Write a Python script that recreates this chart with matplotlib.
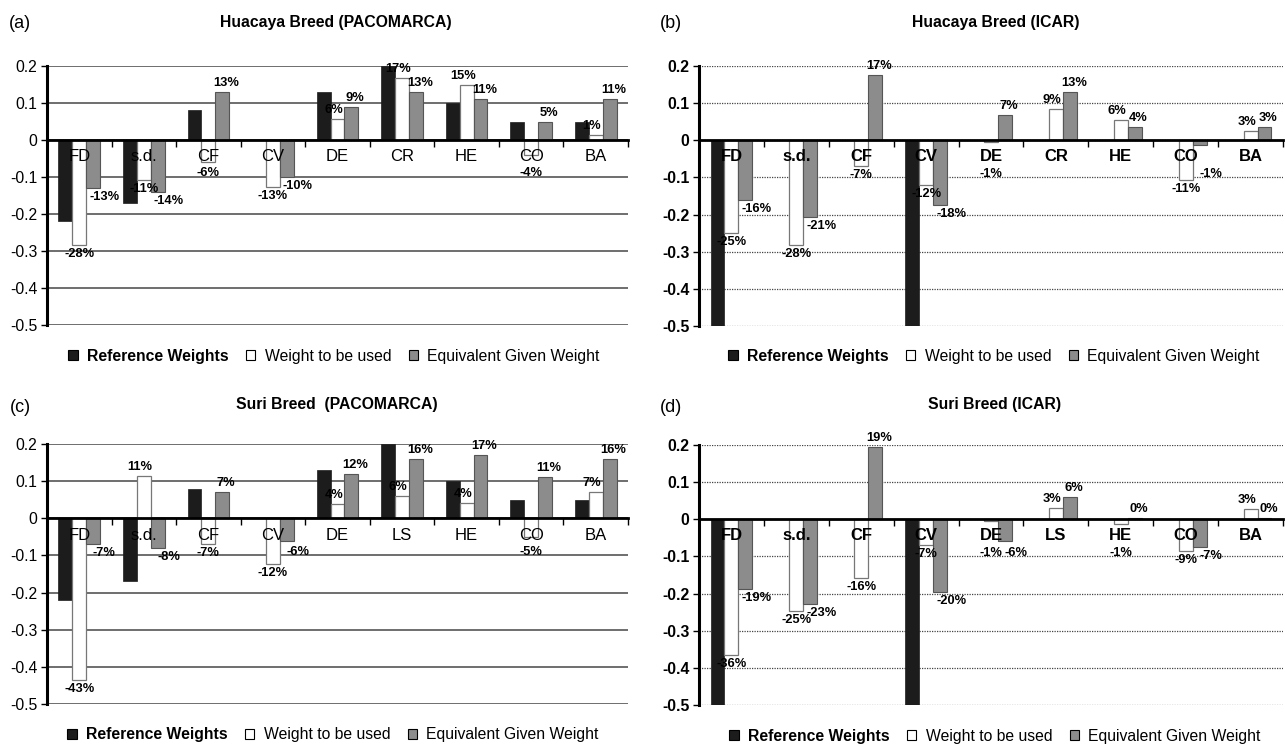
import matplotlib
matplotlib.use("Agg")
import matplotlib.pyplot as plt
from matplotlib.patches import Patch
import numpy as np

plt.rcParams["font.family"] = ["Liberation Sans", "DejaVu Sans"]

# categories
cats_huacaya = ["FD", "s.d.", "CF", "CV", "DE", "CR", "HE", "CO", "BA"]
cats_suri = ["FD", "s.d.", "CF", "CV", "DE", "LS", "HE", "CO", "BA"]

# (a) Huacaya Breed (PACOMARCA)
ref_a = [-0.22, -0.17, 0.08, 0.0, 0.13, 0.20, 0.10, 0.05, 0.05]
use_a = [-0.283, -0.107, -0.06, -0.127, 0.056, 0.167, 0.15, -0.04, 0.013]
eq_a = [-0.13, -0.14, 0.13, -0.10, 0.09, 0.13, 0.11, 0.05, 0.11]
use_lab_a = ["-28%", "-11%", "-6%", "-13%", "6%", "17%", "15%", "-4%", "1%"]
eq_lab_a = ["-13%", "-14%", "13%", "-10%", "9%", "13%", "11%", "5%", "11%"]

# (b) Huacaya Breed (ICAR)
ref_b = [-0.5, 0.0, 0.0, -0.5, 0.0, 0.0, 0.0, 0.0, 0.0]
use_b = [-0.25, -0.283, -0.07, -0.12, -0.005, 0.085, 0.055, -0.107, 0.025]
eq_b = [-0.162, -0.207, 0.175, -0.175, 0.068, 0.13, 0.035, -0.013, 0.035]
use_lab_b = ["-25%", "-28%", "-7%", "-12%", "-1%", "9%", "6%", "-11%", "3%"]
eq_lab_b = ["-16%", "-21%", "17%", "-18%", "7%", "13%", "4%", "-1%", "3%"]

# (c) Suri Breed (PACOMARCA)
ref_c = [-0.22, -0.17, 0.08, 0.0, 0.13, 0.20, 0.10, 0.05, 0.05]
use_c = [-0.435, 0.113, -0.07, -0.123, 0.038, 0.06, 0.04, -0.05, 0.07]
eq_c = [-0.07, -0.08, 0.07, -0.06, 0.12, 0.16, 0.17, 0.11, 0.16]
use_lab_c = ["-43%", "11%", "-7%", "-12%", "4%", "6%", "4%", "-5%", "7%"]
eq_lab_c = ["-7%", "-8%", "7%", "-6%", "12%", "16%", "17%", "11%", "16%"]

# (d) Suri Breed (ICAR)
ref_d = [-0.5, 0.0, 0.0, -0.5, 0.0, 0.0, 0.0, 0.0, 0.0]
use_d = [-0.365, -0.247, -0.158, -0.068, -0.005, 0.03, -0.013, -0.085, 0.028]
eq_d = [-0.187, -0.227, 0.195, -0.196, -0.058, 0.06, 0.003, -0.074, 0.004]
use_lab_d = ["-36%", "-25%", "-16%", "-7%", "-1%", "3%", "-1%", "-9%", "3%"]
eq_lab_d = ["-19%", "-23%", "19%", "-20%", "-6%", "6%", "0%", "-7%", "0%"]

yticks = [-0.5, -0.4, -0.3, -0.2, -0.1, 0, 0.1, 0.2]
ytick_labels = ["-0.5", "-0.4", "-0.3", "-0.2", "-0.1", "0", "0.1", "0.2"]
legend_labels = ["Reference Weights", "Weight to be used", "Equivalent Given Weight"]

c_ref = "#1c1c1c"
c_use = "white"
c_eq = "#8c8c8c"
width = 0.215

W, H = 1285, 745
fig = plt.figure(figsize=(W / 100, H / 100), dpi=100)


def fx(px):
    return px / W


def fy(py):
    return 1 - py / H


def panel(rect, cats, ref, use, eq, use_lab, eq_lab, icar):
    ax = fig.add_axes(rect)
    x = np.arange(len(cats))
    weight = "bold" if icar else "normal"
    if icar:
        ax.yaxis.grid(True, color="#444444", linestyle=(0, (1, 1)), linewidth=0.9)
    else:
        ax.yaxis.grid(True, color="#555555", linestyle="-", linewidth=1.2)
    ax.set_axisbelow(True)

    ax.bar(x - width, ref, width, color=c_ref, edgecolor=c_ref, linewidth=0.5)
    ax.bar(x, use, width, color=c_use, edgecolor="#777777", linewidth=0.9)
    ax.bar(x + width, eq, width, color=c_eq, edgecolor="#555555", linewidth=0.8)

    for i in range(len(cats)):
        ax.text(x[i], -0.045, cats[i], ha="center", va="center", fontsize=12,
                fontweight=weight, zorder=5)
        for xo, v, lab, pshift, nshift in ((x[i], use[i], use_lab[i], -0.06, 0.0),
                                           (x[i] + width, eq[i], eq_lab[i], 0.06, 0.17)):
            if v >= 0:
                ax.text(xo + pshift, v + 0.008, lab, ha="center", va="bottom",
                        fontsize=9.3, fontweight="bold", zorder=6)
            else:
                ax.text(xo + nshift, min(v, -0.066) - 0.008, lab, ha="center",
                        va="top", fontsize=9.3, fontweight="bold", zorder=6)

    ax.set_xlim(-0.5, len(cats) - 0.5)
    ax.set_ylim(-0.5, 0.2)
    ax.set_yticks(yticks)
    ax.set_yticklabels(ytick_labels, fontsize=11.3, fontweight=weight)
    ax.set_xticks(np.arange(0.5, len(cats), 1))
    ax.set_xticklabels([])
    ax.tick_params(axis="x", direction="out", length=5, width=1, color="black")
    ax.tick_params(axis="y", direction="out", length=4, width=1, color="black", pad=3)
    ax.spines["top"].set_visible(False)
    ax.spines["right"].set_visible(False)
    ax.spines["bottom"].set_position(("data", 0))
    ax.spines["bottom"].set_linewidth(2)
    ax.spines["bottom"].set_zorder(4)
    ax.spines["left"].set_linewidth(2.2)
    return ax


def titles(tag, tag_x, title, title_x, y):
    fig.text(fx(tag_x), fy(y + 2), tag, ha="center", va="center", fontsize=13)
    fig.text(fx(title_x), fy(y), title, ha="center", va="center", fontsize=11.3,
             fontweight="bold")


def legend(cx, cy):
    handles = [Patch(facecolor=c_ref, edgecolor="black", linewidth=0.8),
               Patch(facecolor=c_use, edgecolor="black", linewidth=0.8),
               Patch(facecolor=c_eq, edgecolor="black", linewidth=0.8)]
    leg = fig.legend(handles, legend_labels, loc="center",
                     bbox_to_anchor=(fx(cx), fy(cy)), ncol=3, frameon=False,
                     fontsize=11.3, handlelength=0.6, handleheight=0.6,
                     handletextpad=0.6, columnspacing=1.1, borderpad=0)
    leg.get_texts()[0].set_fontweight("bold")


panel([fx(47), fy(325), fx(628 - 47), fy(66) - fy(325)], cats_huacaya,
      ref_a, use_a, eq_a, use_lab_a, eq_lab_a, False)
panel([fx(699), fy(326), fx(1283 - 699), fy(66) - fy(326)], cats_huacaya,
      ref_b, use_b, eq_b, use_lab_b, eq_lab_b, True)
panel([fx(47), fy(704), fx(628 - 47), fy(444) - fy(704)], cats_suri,
      ref_c, use_c, eq_c, use_lab_c, eq_lab_c, False)
panel([fx(699), fy(705), fx(1283 - 699), fy(445) - fy(705)], cats_suri,
      ref_d, use_d, eq_d, use_lab_d, eq_lab_d, True)

titles("(a)", 20, "Huacaya Breed (PACOMARCA)", 336, 22)
titles("(b)", 671, "Huacaya Breed (ICAR)", 996, 22)
titles("(c)", 20, "Suri Breed  (PACOMARCA)", 337, 405)
titles("(d)", 671, "Suri Breed (ICAR)", 995, 405)

legend(334, 356)
legend(994, 356)
legend(333, 735)
legend(995, 736)

fig.savefig("out.png", dpi=100)
